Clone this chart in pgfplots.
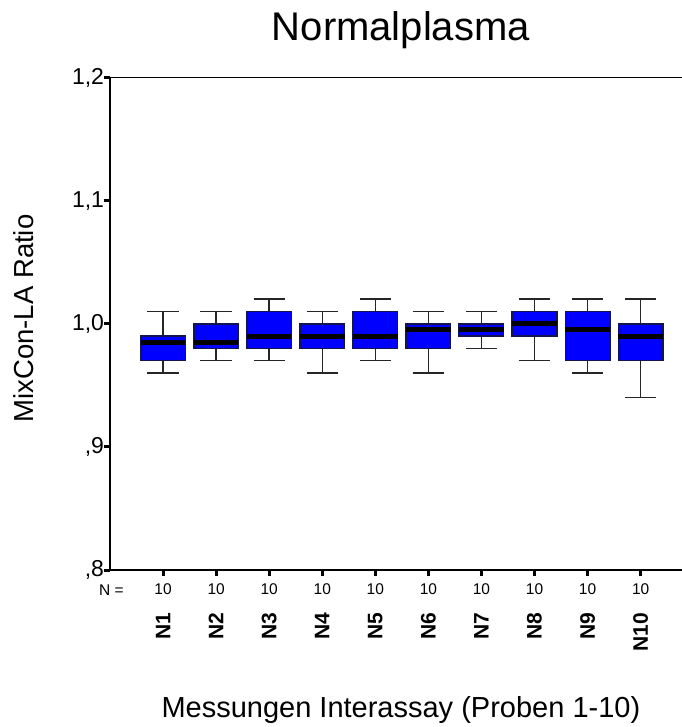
\documentclass[border=0pt]{standalone}
\usepackage{pgfplots}
\pgfplotsset{compat=1.18}
\usepgfplotslibrary{statistics}
\usepackage{fontspec}
\setmainfont{Liberation Sans}
\newcommand{\fs}[1]{\fontsize{#1bp}{#1bp}\selectfont}
\definecolor{boxblue}{RGB}{0,0,255}
\definecolor{boxedge}{RGB}{20,20,80}
\pgfplotsset{
  boxplot/draw direction=y,
  boxplot/every box/.style={draw=boxedge, line width=1.5bp, fill=boxblue},
  boxplot/every median/.style={draw=black, line width=5bp},
  boxplot/every whisker/.style={draw=black!85, line width=1.5bp},
  bx/.style={solid, boxplot prepared={#1, box extend=0.84, whisker extend=0.59}},
}
\begin{document}
\begin{tikzpicture}
\path[use as bounding box] (-110bp,-157bp) rectangle (572bp,570bp);
\begin{axis}[
  at={(0,0)}, anchor=south west,
  scale only axis, width=571.5bp, height=492.5bp,
  xmin=0, xmax=10.77, ymin=0.8, ymax=1.2,
  axis x line=box, axis y line=left,
  x axis line style={line width=1.5bp, -},
  y axis line style={line width=2bp, -},
  clip mode=individual,
  tick align=outside,
  major tick length=5.5bp,
  tick style={line width=3bp, black},
  xtick pos=left, ytick pos=left,
  xtick={1,2,3,4,5,6,7,8,9,10},
  xticklabels={10,10,10,10,10,10,10,10,10,10},
  xticklabel style={font=\fs{15.5}, anchor=base, yshift=-19bp},
  extra x ticks={1,2,3,4,5,6,7,8,9,10},
  extra x tick labels={N1,N2,N3,N4,N5,N6,N7,N8,N9,N10},
  extra x tick style={xticklabel style={font=\bfseries\fs{21}, yshift=-15bp, rotate=90, anchor=east}},
  ytick={0.8,0.9,1.0,1.1,1.2},
  yticklabels={{,8},{,9},{1,0},{1,1},{1,2}},
  yticklabel style={font=\fs{23}, xshift=3bp},
  title=Normalplasma,
  title style={at={(0.509,1.076)}, anchor=base, yshift=-6pt, font=\fs{40}},
  xlabel={Messungen Interassay (Proben 1-10)},
  xlabel style={at={(0.509,-0.2985)}, anchor=base, font=\fs{29}},
  ylabel={MixCon-LA Ratio},
  ylabel style={at={(-0.1347,0.5107)}, anchor=base, rotate=0, font=\fs{27.5}},
]
\addplot[bx={draw position=1,  lower whisker=0.96, lower quartile=0.97, median=0.985, upper quartile=0.99, upper whisker=1.01}] coordinates {};
\addplot[bx={draw position=2,  lower whisker=0.97, lower quartile=0.98, median=0.985, upper quartile=1.00, upper whisker=1.01}] coordinates {};
\addplot[bx={draw position=3,  lower whisker=0.97, lower quartile=0.98, median=0.99,  upper quartile=1.01, upper whisker=1.02}] coordinates {};
\addplot[bx={draw position=4,  lower whisker=0.96, lower quartile=0.98, median=0.99,  upper quartile=1.00, upper whisker=1.01}] coordinates {};
\addplot[bx={draw position=5,  lower whisker=0.97, lower quartile=0.98, median=0.99,  upper quartile=1.01, upper whisker=1.02}] coordinates {};
\addplot[bx={draw position=6,  lower whisker=0.96, lower quartile=0.98, median=0.995, upper quartile=1.00, upper whisker=1.01}] coordinates {};
\addplot[bx={draw position=7,  lower whisker=0.98, lower quartile=0.99, median=0.995, upper quartile=1.00, upper whisker=1.01}] coordinates {};
\addplot[bx={draw position=8,  lower whisker=0.97, lower quartile=0.99, median=1.00,  upper quartile=1.01, upper whisker=1.02}] coordinates {};
\addplot[bx={draw position=9,  lower whisker=0.96, lower quartile=0.97, median=0.995, upper quartile=1.01, upper whisker=1.02}] coordinates {};
\addplot[bx={draw position=10, lower whisker=0.94, lower quartile=0.97, median=0.99,  upper quartile=1.00, upper whisker=1.02}] coordinates {};
\node[anchor=base east, font=\fs{15.5}] at (rel axis cs:0.030,-0.0508) {N =};
\end{axis}
\end{tikzpicture}
\end{document}
